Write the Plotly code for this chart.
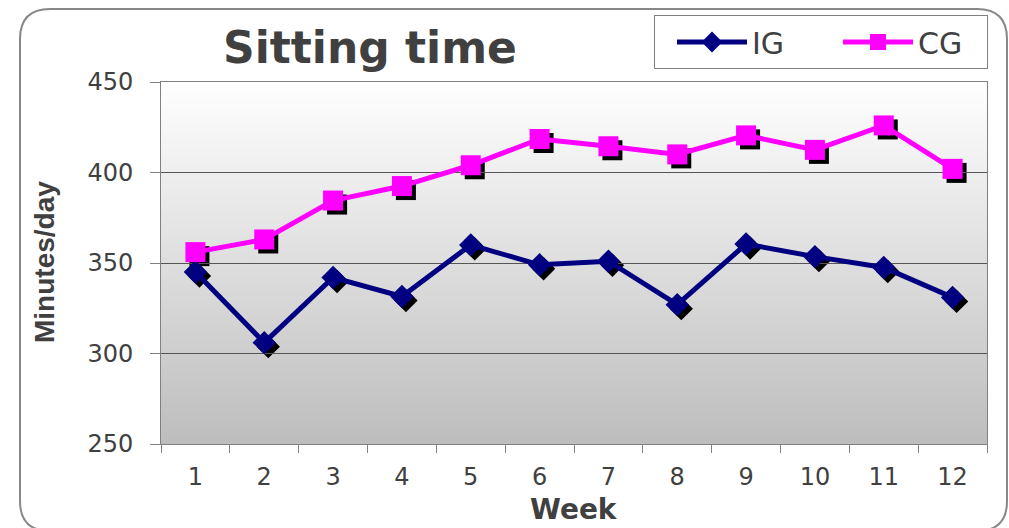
import base64
import plotly.graph_objects as go

weeks = ["1", "2", "3", "4", "5", "6", "7", "8", "9", "10", "11", "12"]
ig_values = [345, 306, 342, 331.5, 360, 349, 351, 327, 360.5, 353.5, 347.5, 331]
cg_values = [356, 363, 384.5, 392.5, 404, 418.5, 414.5, 410, 420.5, 412.5, 426, 402]
y_ticks = [250, 300, 350, 400, 450]

W, H = 1009, 528
ML, MT = 161, 82
PW, PH = 826, 362      # plot frame size in px
SH = 4                 # marker shadow offset in px
MR = W - ML - PW - SH
MB = H - MT - PH - SH
TW, TH = PW + SH, PH + SH

def px(x):
    return (x - ML) / TW

def py(y):
    return (MT + TH - y) / TH

TXT = "#404040"
GRAY = "#808080"
FONT = "DejaVu Sans"

fig = go.Figure()

# shadows (drawn first, on offset subplot)
for vals, sym, size in [(ig_values, "diamond", 18), (cg_values, "square", 20)]:
    fig.add_trace(go.Scatter(x=weeks, y=vals, mode="markers", xaxis="x", yaxis="y",
                             marker=dict(symbol=sym, size=size, color="black"),
                             showlegend=False, hoverinfo="skip"))

fig.add_trace(go.Scatter(x=weeks, y=ig_values, name="IG", mode="lines+markers",
                         xaxis="x2", yaxis="y2",
                         line=dict(color="#000080", width=5),
                         marker=dict(symbol="diamond", size=18, color="#000080")))
fig.add_trace(go.Scatter(x=weeks, y=cg_values, name="CG", mode="lines+markers",
                         xaxis="x2", yaxis="y2",
                         line=dict(color="#ff00ff", width=5),
                         marker=dict(symbol="square", size=20, color="#ff00ff")))

svg = ('<svg xmlns="http://www.w3.org/2000/svg" width="100" height="100" preserveAspectRatio="none">'
       '<defs><linearGradient id="g" x1="0" y1="0" x2="0" y2="1">'
       '<stop offset="0" stop-color="#ffffff"/><stop offset="1" stop-color="#bdbdbd"/>'
       '</linearGradient></defs><rect width="100" height="100" fill="url(#g)"/></svg>')
src = "data:image/svg+xml;base64," + base64.b64encode(svg.encode()).decode()

r = 30
x0, x1, y0, y1 = 20, 1007, 9, 531
border = (f"M {px(x0+r)},{py(y0)} L {px(x1-r)},{py(y0)} Q {px(x1)},{py(y0)} {px(x1)},{py(y0+r)} "
          f"L {px(x1)},{py(y1-r)} Q {px(x1)},{py(y1)} {px(x1-r)},{py(y1)} "
          f"L {px(x0+r)},{py(y1)} Q {px(x0)},{py(y1)} {px(x0)},{py(y1-r)} "
          f"L {px(x0)},{py(y0+r)} Q {px(x0)},{py(y0)} {px(x0+r)},{py(y0)} Z")

fig.update_layout(
    width=W, height=H,
    margin=dict(l=ML, r=MR, t=MT, b=MB, pad=0),
    paper_bgcolor="white", plot_bgcolor="rgba(0,0,0,0)",
    font=dict(family=FONT, color=TXT, size=24),
    images=[dict(source=src, xref="paper", yref="paper", x=0, y=1,
                 sizex=PW / TW, sizey=PH / TH, xanchor="left", yanchor="top",
                 sizing="stretch", layer="below")],
    shapes=[dict(type="path", path=border, xref="paper", yref="paper",
                 line=dict(color="#888888", width=2), layer="below")],
    xaxis=dict(type="category", domain=[SH / TW, 1], anchor="y", visible=False,
               range=[-0.5, 11.5]),
    yaxis=dict(domain=[0, PH / TH], anchor="x", visible=False, range=[250, 450]),
    xaxis2=dict(type="category", domain=[0, PW / TW], anchor="y2", range=[-0.5, 11.5],
                tickson="boundaries", ticks="outside", ticklen=8, tickcolor=GRAY,
                showline=True, linecolor=GRAY, linewidth=1, mirror=True,
                showgrid=False, ticklabelstandoff=11,
                tickfont=dict(size=24, color=TXT, family=FONT)),
    yaxis2=dict(domain=[SH / TH, 1], anchor="x2", range=[250, 450], tickvals=y_ticks,
                ticks="outside", ticklen=10, tickcolor=GRAY,
                showline=True, linecolor=GRAY, linewidth=1, mirror=True,
                showgrid=True, gridcolor="#555555", gridwidth=1, zeroline=False,
                ticklabelstandoff=12,
                tickfont=dict(size=24, color=TXT, family=FONT)),
    legend=dict(orientation="h", x=px(988), xanchor="right", y=py(15), yanchor="top",
                bgcolor="white", bordercolor=GRAY, borderwidth=1,
                font=dict(size=30, color=TXT, family=FONT),
                itemwidth=70, entrywidth=64, indentation=17, tracegroupgap=0),
    annotations=[
        dict(text="<b>Sitting time</b>", x=px(370), y=py(47), xref="paper", yref="paper",
             showarrow=False, font=dict(size=44, color=TXT, family=FONT),
             xanchor="center", yanchor="middle"),
        dict(text="<b>Week</b>", x=px(574), y=py(509), xref="paper", yref="paper",
             showarrow=False, font=dict(size=28, color=TXT, family=FONT),
             xanchor="center", yanchor="middle"),
        dict(text="<b>Minutes/day</b>", x=px(44), y=py(262), xref="paper", yref="paper",
             showarrow=False, textangle=-90,
             font=dict(size=28, color=TXT, family="Liberation Sans"),
             xanchor="center", yanchor="middle"),
    ],
)

fig.write_html("out.html", config={"displayModeBar": False},
               post_script="document.body.style.margin='0';document.body.style.overflow='hidden';")
